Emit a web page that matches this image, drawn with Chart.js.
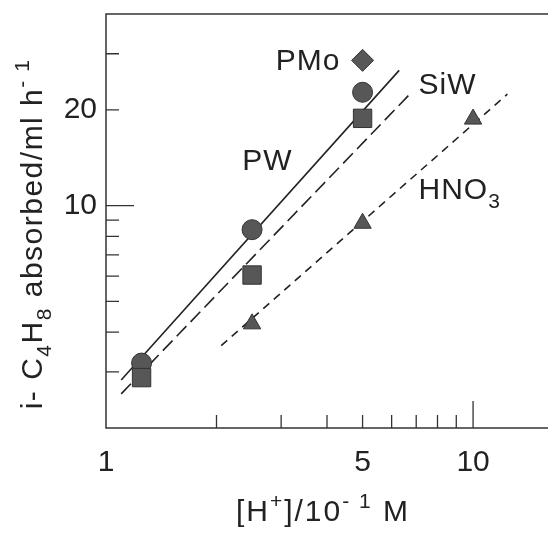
<!DOCTYPE html>
<html>
<head>
<meta charset="utf-8">
<script src="https://cdn.jsdelivr.net/npm/chart.js@4.4.1/dist/chart.umd.min.js"></script>
<style>
  body { margin: 0; background: #fff; }
  #wrap { width: 548px; height: 546px; }
</style>
</head>
<body>
<div id="wrap"><canvas id="chart" width="548" height="546"></canvas></div>
<script>
// [H+] concentrations (x, in 10^-1 M) and absorption rates (ml/h)
const hConc = [1.25, 2.5, 5];
const pwRate = [3.2, 8.4, 22.7];
const siwRate = [2.88, 6.05, 18.8];
const pmoConc = [5];
const pmoRate = [28.6];
const hno3Conc = [2.5, 5, 10];
const hno3Rate = [4.25, 8.8, 18.7];

// fitted lines, end points
const pwFitX = [1.10, 6.29];
const pwFitY = [2.83, 26.6];
const siwFitX = [1.10, 6.70];
const siwFitY = [2.56, 22.3];
const hno3FitX = [2.06, 12.4];
const hno3FitY = [3.63, 22.4];

// axes
const xTicks = [1, 2, 3, 4, 5, 6, 7, 8, 9, 10];
const xTickLabels = [1, 5, 10];
const yTicks = [3, 4, 5, 6, 7, 8, 9, 10, 20, 30];
const yTickLabels = [10, 20];
const xTitle = '[H^+]/10^{- 1} M';
const yTitle = 'i- C_4H_8 absorbed/ml h^{- 1}';

// in-plot labels (data coordinates of left/baseline)
const labelText = ['PMo', 'SiW', 'PW', 'HNO_3'];
const labelX = [2.90, 7.10, 2.35, 7.10];
const labelY = [26.7, 22.5, 12.97, 10.5];

const FONT = '"Liberation Sans", Arial, sans-serif';
const INK = '#222';
const MARK = '#575757';
const MARK_EDGE = '#333';

function pts(xs, ys) {
    return xs.map((x, i) => ({ x: x, y: ys[i] }));
}

function parseRich(s) {
    const parts = [];
    let buf = '';
    let i = 0;
    while (i < s.length) {
        const c = s[i];
        if (c === '_' || c === '^') {
            if (buf) { parts.push({ t: buf, k: 0 }); buf = ''; }
            let t;
            if (s[i + 1] === '{') {
                const j = s.indexOf('}', i);
                t = s.slice(i + 2, j);
                i = j + 1;
            } else {
                t = s[i + 1];
                i += 2;
            }
            parts.push({ t: t, k: c === '_' ? 1 : -1 });
        } else {
            buf += c;
            i++;
        }
    }
    if (buf) parts.push({ t: buf, k: 0 });
    return parts;
}

function drawRich(ctx, s, x, y, size, align, spacing) {
    const parts = parseRich(s);
    ctx.save();
    ctx.letterSpacing = (spacing || 0) + 'px';
    ctx.textBaseline = 'alphabetic';
    ctx.textAlign = 'left';
    ctx.fillStyle = INK;
    let total = 0;
    parts.forEach(p => {
        ctx.font = (p.k ? size * 0.7 : size) + 'px ' + FONT;
        p.w = ctx.measureText(p.t).width;
        total += p.w;
    });
    let cx = align === 'center' ? x - total / 2 : x;
    parts.forEach(p => {
        ctx.font = (p.k ? size * 0.7 : size) + 'px ' + FONT;
        const dy = p.k === 1 ? size * 0.3 : (p.k === -1 ? -size * 0.45 : 0);
        ctx.fillText(p.t, cx, y + dy);
        cx += p.w;
    });
    ctx.restore();
}

const decorPlugin = {
    id: 'decor',
    beforeDatasetsDraw(chart) {
        const ctx = chart.ctx;
        const a = chart.chartArea;
        const xs = chart.scales.x;
        const ys = chart.scales.y;
        ctx.save();
        ctx.strokeStyle = '#333';
        ctx.lineWidth = 1.5;
        ctx.strokeRect(a.left, a.top, a.right - a.left + 2, a.bottom - a.top);
        ctx.lineWidth = 1.3;
        ctx.beginPath();
        xTicks.forEach(v => {
            if (v <= 1) return;
            const px = xs.getPixelForValue(v);
            const len = v === 10 ? 27 : 13;
            ctx.moveTo(px, a.bottom);
            ctx.lineTo(px, a.bottom - len);
        });
        yTicks.forEach(v => {
            const py = ys.getPixelForValue(v);
            const len = v === 10 ? 28 : 13;
            ctx.moveTo(a.left, py);
            ctx.lineTo(a.left + len, py);
        });
        ctx.stroke();
        ctx.restore();
    },
    afterDraw(chart) {
        const ctx = chart.ctx;
        const xs = chart.scales.x;
        const ys = chart.scales.y;
        labelText.forEach((t, i) => {
            drawRich(ctx, t, xs.getPixelForValue(labelX[i]), ys.getPixelForValue(labelY[i]), 30, 'left', 1);
        });
        drawRich(ctx, xTitle, 323, 521, 30, 'center', 2);
        ctx.save();
        ctx.translate(42, 234);
        ctx.rotate(-Math.PI / 2);
        drawRich(ctx, yTitle, 0, 0, 30, 'center', 1.5);
        ctx.restore();
    }
};

const lineDefaults = {
    showLine: true,
    pointRadius: 0,
    borderColor: INK,
    borderWidth: 1.6,
    fill: false,
    order: 5
};

const markDefaults = {
    backgroundColor: MARK,
    borderColor: MARK_EDGE,
    borderWidth: 1,
    showLine: false
};

new Chart(document.getElementById('chart').getContext('2d'), {
    type: 'scatter',
    data: {
        datasets: [
            Object.assign({ label: 'PW fit', data: pts(pwFitX, pwFitY) }, lineDefaults),
            Object.assign({ label: 'SiW fit', data: pts(siwFitX, siwFitY), borderDash: [14, 6] }, lineDefaults),
            Object.assign({ label: 'HNO3 fit', data: pts(hno3FitX, hno3FitY), borderDash: [8, 6] }, lineDefaults),
            Object.assign({ label: 'PW', data: pts(hConc, pwRate), pointStyle: 'circle', pointRadius: 10, order: 3 }, markDefaults),
            Object.assign({ label: 'SiW', data: pts(hConc, siwRate), pointStyle: 'rect', pointRadius: 13, order: 2 }, markDefaults),
            Object.assign({ label: 'PMo', data: pts(pmoConc, pmoRate), pointStyle: 'rectRot', pointRadius: 11, order: 2 }, markDefaults),
            Object.assign({ label: 'HNO3', data: pts(hno3Conc, hno3Rate), pointStyle: 'triangle', pointRadius: 10, order: 2 }, markDefaults)
        ]
    },
    options: {
        responsive: false,
        animation: false,
        layout: { autoPadding: false, padding: { top: 14, right: 0, left: 0, bottom: 0 } },
        plugins: {
            legend: { display: false },
            tooltip: { enabled: false }
        },
        scales: {
            x: {
                type: 'logarithmic',
                min: 1,
                max: 16,
                afterBuildTicks: s => { s.ticks = xTicks.map(v => ({ value: v })); },
                afterFit: s => { s.height = 118; s.paddingLeft = 0; s.paddingRight = 0; },
                grid: { display: false, drawTicks: false },
                border: { display: false },
                ticks: {
                    autoSkip: false,
                    maxRotation: 0,
                    padding: 17,
                    color: INK,
                    font: { family: FONT, size: 30 },
                    callback: v => xTickLabels.includes(v) ? String(v) : ''
                }
            },
            y: {
                type: 'logarithmic',
                min: 2,
                max: 40,
                afterBuildTicks: s => { s.ticks = yTicks.map(v => ({ value: v })); },
                afterFit: s => { s.width = 106; s.paddingTop = 0; s.paddingBottom = 0; },
                grid: { display: false, drawTicks: false },
                border: { display: false },
                ticks: {
                    autoSkip: false,
                    padding: 9,
                    color: INK,
                    font: { family: FONT, size: 30 },
                    callback: v => yTickLabels.includes(v) ? String(v) : ''
                }
            }
        }
    },
    plugins: [decorPlugin]
});
</script>
</body>
</html>
